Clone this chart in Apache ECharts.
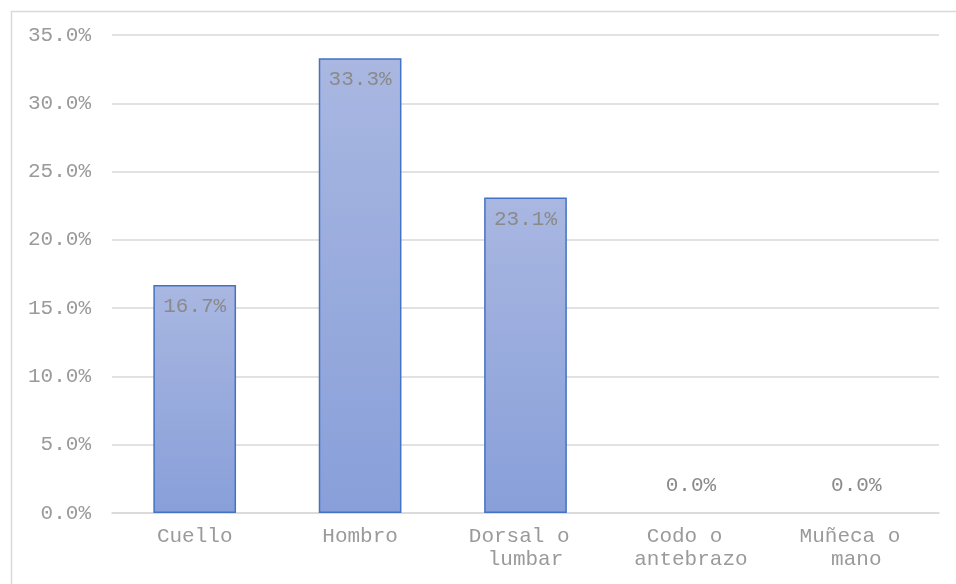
<!DOCTYPE html>
<html>
<head>
<meta charset="utf-8">
<script src="https://cdn.jsdelivr.net/npm/echarts@6/dist/echarts.min.js"></script>
<style>
  html, body { margin: 0; padding: 0; background: #ffffff; }
  #chart { width: 956px; height: 584px; }
</style>
</head>
<body>
<div id="chart"></div>
<script>
// Body regions and share of cases (%)
const categories = ['Cuello', 'Hombro', 'Dorsal o lumbar', 'Codo o antebrazo', 'Muñeca o mano'];
const shares = [16.7, 33.3, 23.1, 0.0, 0.0];
const yTicks = [0, 5, 10, 15, 20, 25, 30, 35];

const FONT = '"Liberation Mono", "Courier New", monospace';

const chart = echarts.init(document.getElementById('chart'), null, { renderer: 'canvas' });

// Empty bars keep their label above the baseline and draw no outline
const barData = shares.map(v => v === 0
  ? { value: v, label: { position: 'top', distance: 17 }, itemStyle: { borderWidth: 0 } }
  : { value: v });

chart.setOption({
  animation: false,
  backgroundColor: '#ffffff',
  graphic: [{
    type: 'rect',
    left: 9, top: 9,
    shape: { width: 980, height: 620 },
    style: { fill: 'none', stroke: '#d9d9d9', lineWidth: 1.5 },
    silent: true
  }],
  grid: { left: 112, right: 17, top: 35, bottom: 71, containLabel: false },
  xAxis: {
    type: 'category',
    data: categories,
    axisLine: { show: true, lineStyle: { color: '#d9d9d9', width: 1.5 } },
    axisTick: { show: false },
    axisLabel: {
      color: '#9a9a9a',
      fontFamily: FONT,
      fontSize: 21,
      margin: 12,
      lineHeight: 23,
      width: 130,
      overflow: 'break',
      interval: 0
    }
  },
  yAxis: {
    type: 'value',
    min: yTicks[0],
    max: yTicks[yTicks.length - 1],
    interval: 5,
    axisLine: { show: false },
    axisTick: { show: false },
    splitLine: { lineStyle: { color: '#d9d9d9', width: 1.5 } },
    axisLabel: {
      color: '#9a9a9a',
      fontFamily: FONT,
      fontSize: 21,
      margin: 21,
      formatter: v => v.toFixed(1) + '%'
    }
  },
  series: [{
    type: 'bar',
    data: barData,
    barWidth: '50%',
    itemStyle: {
      color: {
        type: 'linear', x: 0, y: 0, x2: 0, y2: 1,
        colorStops: [
          { offset: 0, color: '#a9b7e1' },
          { offset: 1, color: '#889fd9' }
        ]
      },
      borderColor: '#4472c4',
      borderWidth: 1.5
    },
    label: {
      show: true,
      position: 'insideTop',
      distance: 11,
      color: '#8a8a8a',
      fontFamily: FONT,
      fontSize: 21,
      formatter: p => p.value.toFixed(1) + '%'
    }
  }]
});
</script>
</body>
</html>
